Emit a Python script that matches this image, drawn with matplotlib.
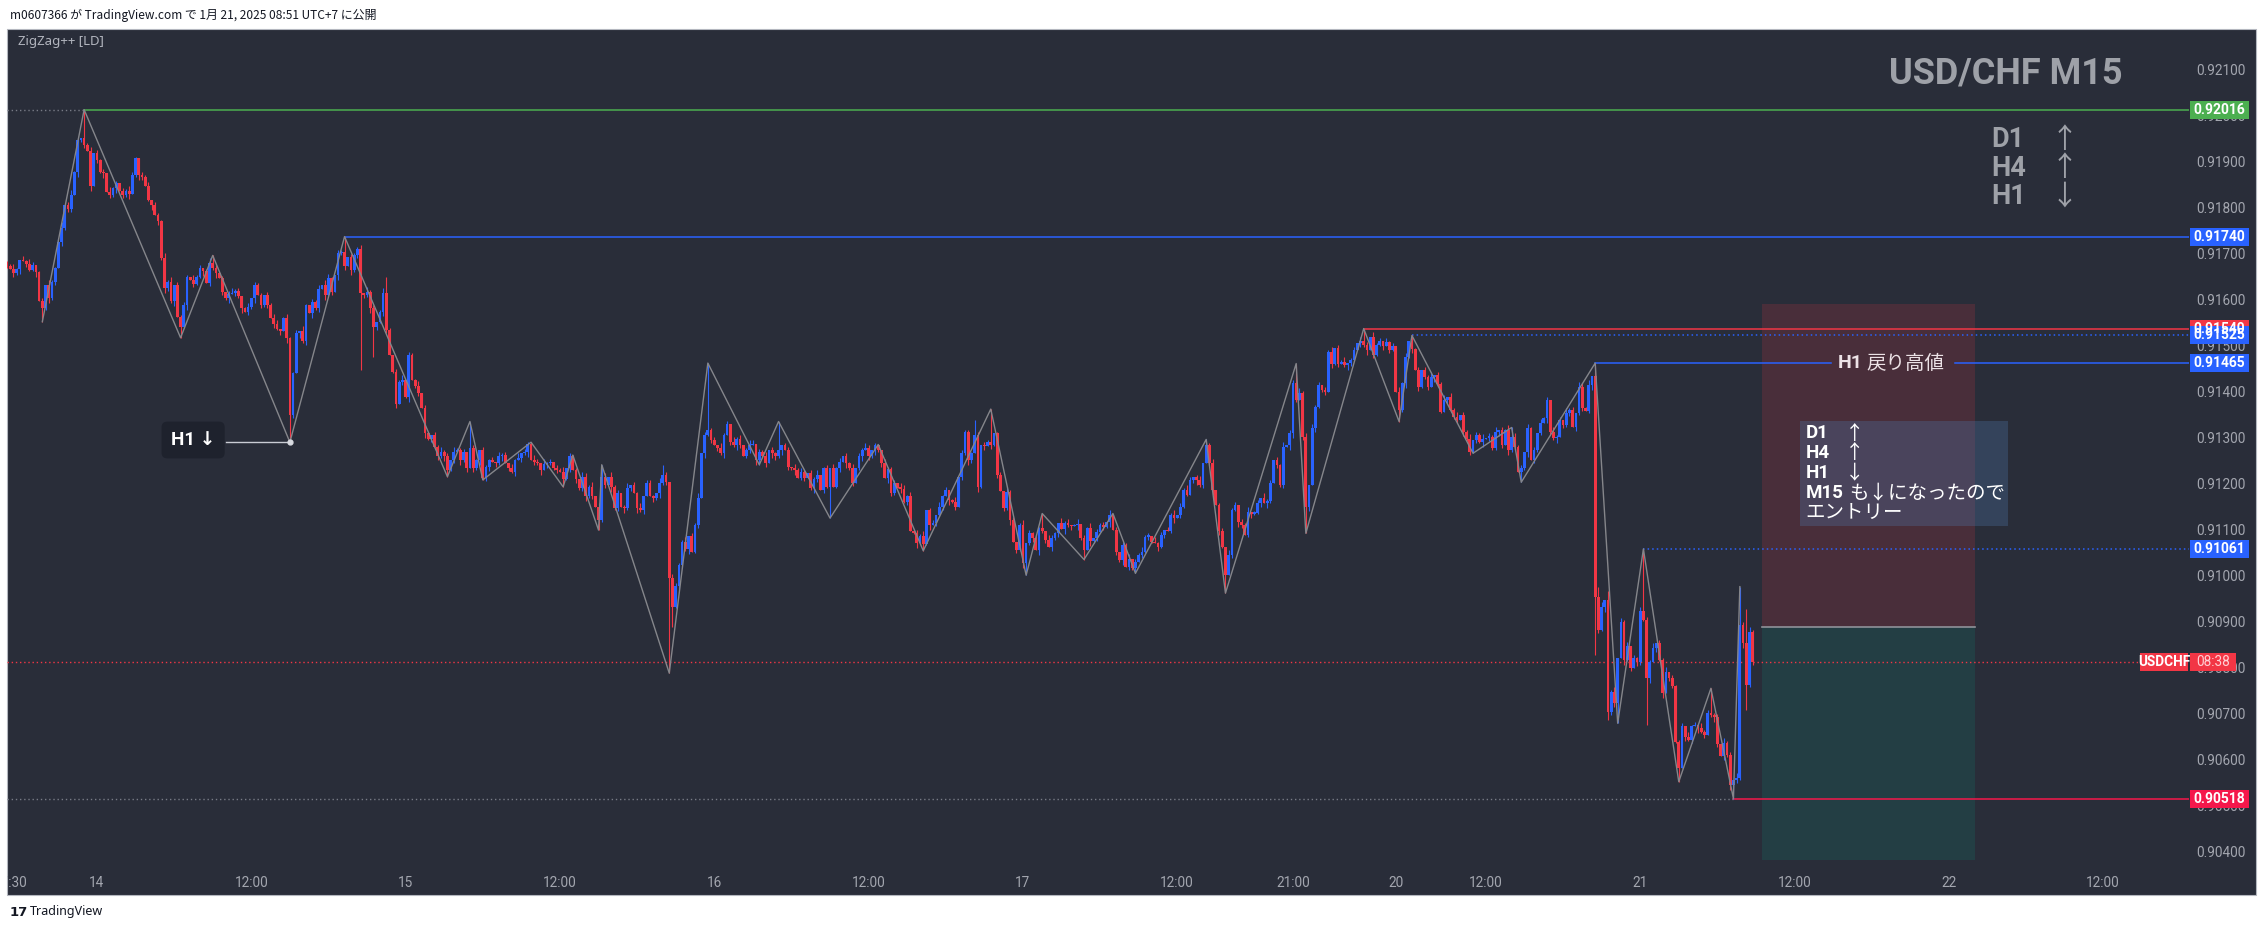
import matplotlib
matplotlib.use("Agg")
import matplotlib.pyplot as plt
from matplotlib.patches import Rectangle
import numpy as np

plt.rcParams['font.family'] = ['Noto Sans', 'Noto Sans CJK JP', 'DejaVu Sans']
BOLD_FAM = ['Roboto', 'DejaVu Sans']

# ---------------- data (prices in pips above 0.90) ----------------
BASE = 0.90
PIP = 0.0001
FIRST_INDEX = -28          # bar index of first visible M15 bar (0 = Jan 14 00:00)
OPEN0 = 168.0

CLOSES = [
    167.6, 167.0, 166.0, 166.9, 169.0, 168.6, 168.0, 166.8, 167.8, 166.2,
    160.0, 158.4, 163.5, 160.6, 164.2, 167.1, 172.9, 175.8, 180.9, 180.1,
    183.0, 188.0, 195.0, 195.4, 193.9, 192.5, 184.9, 192.1, 190.6, 188.1,
    187.8, 183.7, 183.0, 184.5, 185.7, 183.9, 183.0, 184.0, 183.2, 187.4,
    191.0, 187.4, 187.0, 184.9, 182.0, 180.9, 178.7, 177.3, 169.3, 162.8,
    164.2, 159.9, 163.5, 156.6, 154.4, 159.1, 165.3, 164.6, 163.8, 165.3,
    167.1, 166.5, 163.9, 168.2, 167.1, 166.0, 165.0, 162.0, 160.6, 161.5,
    161.8, 162.2, 161.0, 158.4, 157.7, 158.6, 160.6, 163.5, 161.3, 159.1,
    161.3, 159.2, 156.2, 155.1, 154.0, 153.4, 156.2, 151.9, 135.2, 144.3,
    153.0, 153.5, 151.2, 159.1, 157.3, 159.8, 158.4, 162.7, 163.5, 161.3,
    164.9, 162.0, 165.6, 170.4, 170.7, 167.5, 169.6, 166.7, 170.0, 171.4,
    161.7, 161.3, 162.0, 158.4, 154.4, 155.5, 157.7, 161.7, 153.7, 148.3,
    144.6, 137.7, 142.4, 142.8, 139.2, 148.3, 142.8, 141.5, 140.0, 136.7,
    131.2, 130.1, 130.9, 128.3, 126.2, 127.2, 126.2, 123.3, 125.4, 127.2,
    127.6, 125.4, 127.2, 123.6, 128.0, 123.6, 125.4, 127.6, 121.6, 124.0,
    125.4, 125.1, 124.7, 126.2, 126.5, 124.7, 123.8, 122.9, 125.4, 125.8,
    126.9, 127.2, 129.0, 125.4, 125.0, 124.7, 123.3, 124.5, 124.7, 125.0,
    123.6, 123.3, 122.8, 121.4, 123.6, 126.2, 123.3, 121.4, 119.3, 121.8,
    117.5, 119.6, 117.6, 115.3, 112.4, 121.8, 120.0, 121.8, 119.6, 115.0,
    118.2, 115.3, 114.9, 119.3, 120.0, 118.2, 115.0, 114.5, 117.5, 120.4,
    117.5, 117.1, 118.2, 120.4, 122.2, 120.7, 99.7, 93.5, 98.0, 102.6,
    107.7, 106.0, 108.9, 105.5, 111.3, 117.1, 126.9, 130.9, 132.0, 129.8,
    128.7, 128.0, 126.9, 130.9, 133.3, 129.4, 128.7, 130.1, 128.8, 126.2,
    127.6, 128.7, 129.0, 125.4, 127.2, 126.2, 124.7, 127.6, 126.9, 126.2,
    127.6, 128.7, 127.6, 124.0, 123.6, 123.3, 121.5, 122.9, 121.5, 122.5,
    119.3, 121.4, 122.2, 118.9, 123.6, 119.6, 123.6, 119.6, 123.6, 125.1,
    126.2, 124.7, 123.6, 120.4, 123.6, 126.2, 127.6, 128.0, 126.2, 127.6,
    128.7, 127.5, 124.7, 121.5, 123.5, 118.2, 120.4, 119.3, 119.2, 116.4,
    117.5, 109.9, 109.6, 107.3, 109.0, 107.2, 114.6, 111.3, 111.7, 113.5,
    115.3, 117.5, 118.9, 116.7, 116.4, 115.3, 121.8, 126.9, 131.6, 125.4,
    126.9, 130.9, 119.6, 128.7, 128.4, 129.4, 128.8, 131.2, 122.2, 118.6,
    115.0, 118.5, 112.4, 107.5, 105.9, 111.3, 103.0, 107.3, 109.5, 108.4,
    105.9, 110.6, 110.0, 108.0, 106.6, 108.4, 109.5, 111.7, 110.5, 111.8,
    111.3, 111.0, 111.2, 111.5, 108.4, 105.9, 110.6, 107.8, 108.5, 109.8,
    111.3, 110.9, 112.0, 113.5, 110.2, 105.5, 103.7, 107.0, 102.2, 104.0,
    101.9, 103.3, 104.8, 105.5, 108.8, 108.9, 107.7, 107.3, 106.6, 109.1,
    110.2, 110.0, 113.5, 112.8, 113.5, 115.3, 118.9, 117.9, 121.1, 121.8,
    121.0, 120.0, 124.7, 128.7, 124.7, 118.9, 115.7, 109.9, 106.6, 100.4,
    104.8, 114.6, 115.6, 112.0, 111.3, 109.1, 114.2, 113.8, 114.0, 116.0,
    117.1, 116.0, 116.5, 120.4, 125.4, 124.3, 120.0, 128.3, 128.7, 131.2,
    142.1, 138.5, 140.0, 130.5, 115.3, 120.0, 132.3, 137.0, 141.7, 140.6,
    140.3, 149.0, 146.4, 149.7, 146.4, 146.8, 146.1, 146.5, 147.2, 149.3,
    150.8, 151.2, 150.4, 149.3, 152.2, 148.3, 150.5, 151.2, 150.3, 151.0,
    149.4, 150.2, 140.3, 136.3, 142.1, 147.9, 151.2, 149.5, 145.0, 141.4,
    145.0, 143.5, 141.4, 143.5, 143.9, 142.0, 135.9, 138.5, 139.2, 136.3,
    134.8, 134.1, 135.2, 131.6, 130.0, 127.2, 129.8, 130.9, 129.4, 130.0,
    130.3, 130.5, 128.0, 131.6, 132.0, 128.7, 131.9, 127.6, 130.5, 128.3,
    122.9, 123.6, 127.2, 132.3, 125.4, 127.6, 131.2, 133.4, 134.5, 138.5,
    131.6, 130.2, 130.5, 134.1, 133.0, 135.6, 136.3, 132.7, 135.6, 141.4,
    136.7, 136.0, 141.7, 143.6, 95.7, 88.5, 93.5, 95.0, 70.7, 75.1,
    72.5, 82.3, 90.3, 82.0, 84.9, 80.2, 82.3, 81.6, 92.5, 90.7,
    78.0, 81.6, 84.5, 85.6, 82.0, 74.7, 79.4, 78.0, 76.2, 64.2,
    58.4, 67.5, 65.3, 64.6, 67.5, 67.8, 67.1, 66.4, 65.7, 70.4,
    70.0, 69.6, 63.8, 61.0, 64.0, 61.2, 54.8, 55.9, 56.3, 89.6,
    85.6, 76.5, 88.1, 81.5,
]

# wick lengths per bar, one digit per bar (x WICK_UNIT pips)
UPPER_WICK = (
    "2131021320 1203112402 3110213021 2031102132 1021302113"
    "1302121031 2013021102 3120130211 0213201311 2031021203"
    "3102130211 2031201321 0213021130 2102131203 1120321021"
    "1203120213 0211320312 0213021103 2130212031 2013021302"
    "2103120321 1302130211 2031203120 1320213021 3012031210"
    "2130120312 0213021320 1203112032 1302130120 3120130211"
    "1320213012 0312013021 3120321031 2013021302 1203120213"
    "0213120312 0213021320 1302130120 3120213012 0312021302"
    "2031203120 2130213012 0312031203 1203120312 0213021302"
    "1302130213 0213021302 1203120312 0312031203 2130213021"
    "3021302130 2130213021 1203120312 3120312031 2031203120"
)
LOWER_WICK = (
    "1021302113 0213120312 2031203021 3021302130 1320130213"
    "2130213021 1302130213 0213021302 1203120312 0312031203"
    "1203120312 0213021320 1302130120 3120213012 0312021302"
    "3021302130 2130213021 1203120312 3120312031 2031203120"
    "0213120312 2130120312 0213021320 1203112032 1302130120"
    "1320213012 0312013021 3120321031 2013021302 1203120213"
    "2031203120 2130213012 0312031203 1203120312 0213021302"
    "1302121031 2013021102 3120130211 0213201311 2031021203"
    "3102130211 2031201321 0213021130 2102131203 1120321021"
    "1203120213 0211320312 0213021103 2130212031 2013021302"
    "2103120321 1302130211 2031203120 1320213021 3012031210"
)
WICK_UNIT = 0.35

HIGH_OVERRIDE = {-4: 201.6, 36: 169.9, 77: 174.0, 90: 165.3, 116: 133.8, 135: 129.3,
                 148: 126.5, 157: 124.4, 176: 124.3, 190: 146.5, 212: 133.8, 243: 128.8,
                 273: 134.1, 278: 136.5, 294: 113.8, 316: 113.8, 345: 129.9, 373: 146.4,
                 394: 154.0, 409: 152.5, 440: 132.5, 466: 146.5, 467: 97.9, 470: 97.0,
                 481: 106.1, 502: 75.8, 511: 97.9, 513: 93.0}
LOW_OVERRIDE = {-17: 155.5, 26: 152.0, 60: 129.3, 82: 145.0, 86: 147.9, 109: 121.8,
                120: 121.1, 145: 119.6, 156: 110.2, 178: 79.1, 179: 89.2, 206: 124.4,
                228: 112.8, 257: 105.7, 289: 100.4, 307: 103.8, 323: 100.8, 351: 96.5,
                376: 109.5, 405: 133.8, 428: 126.9, 443: 120.6, 466: 83.0, 470: 68.9,
                473: 68.2, 482: 67.8, 492: 55.5, 509: 51.8, 513: 71.1}

ZZ_INDEX = [-17, -4, 26, 36, 60, 77, 109, 116, 120, 135, 145, 148, 156, 157, 178, 190,
            206, 212, 228, 243, 257, 278, 289, 294, 307, 316, 323, 345, 351, 373, 376,
            394, 405, 409, 428, 440, 443, 466, 473, 481, 492, 502, 509, 511]
ZZ_PIPS = [155.5, 201.6, 152.0, 169.9, 129.3, 174.0, 121.8, 133.8, 121.1, 129.3, 119.6,
           126.5, 110.2, 124.4, 79.1, 146.5, 124.4, 133.8, 112.8, 128.8, 105.7, 136.5,
           100.4, 113.8, 103.8, 113.8, 100.8, 129.9, 96.5, 146.4, 109.5, 154.0, 133.8,
           152.5, 126.9, 132.5, 120.6, 146.5, 68.2, 106.1, 55.5, 75.8, 51.8, 97.9]

# horizontal levels: price, start bar, colour, style
LEVEL_PRICE = [0.92016, 0.91740, 0.91540, 0.91525, 0.91465, 0.91061, 0.90518]
LEVEL_START = [-4, 77, 394, 409, 466, 481, 509]
LEVEL_COLOR = ['#4caf50', '#2962ff', '#f23645', '#2962ff', '#2962ff', '#2962ff', '#f5174b']
LEVEL_STYLE = ['-', '-', '-', ':', '-', ':', '-']
LEVEL_LEFT_DOTS = [True, False, False, False, False, False, True]
H1_GAP = (539.3, 577.9)     # gap in the 0.91465 ray around its text

PRICE_TICKS = [0.92100, 0.92000, 0.91900, 0.91800, 0.91700, 0.91600, 0.91500, 0.91400,
               0.91300, 0.91200, 0.91100, 0.91000, 0.90900, 0.90800, 0.90700, 0.90600,
               0.90500, 0.90400]
TIME_LABELS = ["17:30", "14", "12:00", "15", "12:00", "16", "12:00", "17", "12:00",
               "21:00", "20", "12:00", "21", "12:00", "22", "12:00"]
TIME_INDEX = [-26.7, 0, 48, 96, 144, 192, 240, 288, 336, 372, 404, 432, 480, 528, 576, 624]

POS_LEFT, POS_RIGHT = 517.9, 584.1
POS_STOP, POS_ENTRY, POS_TARGET = 0.91593, 0.90891, 0.90385
NOTE_LEFT, NOTE_RIGHT, NOTE_TOP, NOTE_BOTTOM = 529.7, 594.4, 0.91339, 0.91111

X_RANGE = (-27.99, 650.70)
Y_RANGE = (0.903717, 0.921913)

# ---------------- style ----------------
W, H, DPI = 2263, 931, 100
BG = '#292d39'
UP, DOWN = '#2962ff', '#f23645'
AXIS_TXT = '#a3a6af'
TITLE_C = '#9ea1a8'

def fx(px):
    return px / W

def fy(py):
    return 1 - py / H

fig = plt.figure(figsize=(W / DPI, H / DPI), dpi=DPI, facecolor='white')
fig.patches.append(Rectangle((fx(7), fy(895)), (2256 - 7) / W, (895 - 29) / H,
                             transform=fig.transFigure, fc=BG, ec='#b4b7bf', lw=0.8,
                             zorder=-5))

L, R, T, B = 7, 2189, 29, 866
ax = fig.add_axes([fx(L), fy(B), (R - L) / W, (B - T) / H], zorder=1)
ax.set_xlim(*X_RANGE)
ax.set_ylim(*Y_RANGE)
ax.axis('off')
ax.patch.set_visible(False)

# ---------------- candles ----------------
N = len(CLOSES)
idx = np.arange(FIRST_INDEX, FIRST_INDEX + N)
closes = BASE + np.array(CLOSES) * PIP
opens = np.concatenate([[BASE + OPEN0 * PIP], closes[:-1]])
uw = np.array([int(c) for c in UPPER_WICK if c.isdigit()][:N]) * WICK_UNIT * PIP
lw_ = np.array([int(c) for c in LOWER_WICK if c.isdigit()][:N]) * WICK_UNIT * PIP
highs = np.maximum(opens, closes) + uw
lows = np.minimum(opens, closes) - lw_
for i, p in HIGH_OVERRIDE.items():
    k = i - FIRST_INDEX
    highs[k] = max(BASE + p * PIP, max(opens[k], closes[k]))
for i, p in LOW_OVERRIDE.items():
    k = i - FIRST_INDEX
    lows[k] = min(BASE + p * PIP, min(opens[k], closes[k]))

cols = [UP if c >= o else DOWN for o, c in zip(opens, closes)]
px_price = (Y_RANGE[1] - Y_RANGE[0]) / (B - T)
ax.vlines(idx, lows, highs, colors=cols, lw=0.8, zorder=3)
ax.bar(idx, np.maximum(np.abs(closes - opens), 1.2 * px_price),
       bottom=np.minimum(opens, closes), width=0.85, color=cols, lw=0, zorder=3)

# zigzag
ax.plot(ZZ_INDEX, BASE + np.array(ZZ_PIPS) * PIP, color='#85868b', lw=1.0, zorder=4)

# ---------------- position box ----------------
ax.add_patch(Rectangle((POS_LEFT, POS_ENTRY), POS_RIGHT - POS_LEFT, POS_STOP - POS_ENTRY,
                       fc=(242/255, 54/255, 69/255, 0.16), ec='none', zorder=1))
ax.add_patch(Rectangle((POS_LEFT, POS_TARGET), POS_RIGHT - POS_LEFT, POS_ENTRY - POS_TARGET,
                       fc=(8/255, 153/255, 129/255, 0.16), ec='none', zorder=1))
ax.plot([POS_LEFT, POS_RIGHT], [POS_ENTRY, POS_ENTRY], color='#8f929a', lw=1.2, zorder=2)

# ---------------- levels ----------------
for p, s, c, st, dots in zip(LEVEL_PRICE, LEVEL_START, LEVEL_COLOR, LEVEL_STYLE, LEVEL_LEFT_DOTS):
    ls = (0, (1, 2)) if st == ':' else '-'
    if abs(p - 0.91465) < 1e-7:
        ax.plot([s, H1_GAP[0]], [p, p], color=c, lw=1.1, ls=ls, zorder=2)
        ax.plot([H1_GAP[1], X_RANGE[1]], [p, p], color=c, lw=1.1, ls=ls, zorder=2)
    else:
        ax.plot([s, X_RANGE[1]], [p, p], color=c, lw=1.1, ls=ls, zorder=2)
    if dots:
        ax.plot([X_RANGE[0], s], [p, p], color='#787b86', lw=1.0, ls=(0, (1, 2)), zorder=2)

last_price = closes[-1]
ax.plot(X_RANGE, [last_price, last_price], color=DOWN, lw=1.0, ls=(0, (1, 2)), zorder=2)

# H1 down label + line to pivot
h1_pivot_i, h1_pivot_p = ZZ_INDEX[4], BASE + ZZ_PIPS[4] * PIP
ax.plot([40.1, h1_pivot_i], [h1_pivot_p, h1_pivot_p], color='#c9ccd4', lw=1.0, zorder=5)
ax.plot([h1_pivot_i], [h1_pivot_p], 'o', color='#d8dae0', ms=3.5, zorder=6)
ax.text(29.9, 0.912978, "H1 ↓", color='white', fontsize=13.5, fontweight='bold',
        ha='center', va='center', family=BOLD_FAM, zorder=6,
        bbox=dict(boxstyle='round,pad=0.5,rounding_size=0.3', fc='#1e222d', ec='none'))

# H1 戻り高値 text
ax.text(541.5, 0.91465, "H1", color='#ece2e6', fontsize=14, fontweight='bold',
        ha='left', va='center', family=BOLD_FAM, zorder=6)
ax.text(550.4, 0.91465, "戻り高値", color='#ece2e6', fontsize=14,
        ha='left', va='center', family=['Noto Sans CJK JP'], zorder=6)

# note box
ax.add_patch(Rectangle((NOTE_LEFT, NOTE_BOTTOM), NOTE_RIGHT - NOTE_LEFT, NOTE_TOP - NOTE_BOTTOM,
                       fc=(0.30, 0.466, 0.667, 0.31), ec='none', zorder=4))
note_rows = [0.913130, 0.912696, 0.912261, 0.911826, 0.911413]
for lab, arrow, y in zip(["D1", "H4", "H1"], ["↑", "↑", "↓"], note_rows[:3]):
    ax.text(531.5, y, lab, color='white', fontsize=13.5, fontweight='bold',
            ha='left', va='center', family=BOLD_FAM, zorder=6)
    ax.text(546.8, y, arrow, color='white', fontsize=14, ha='center', va='center',
            family=['Noto Sans CJK JP'], zorder=6)
ax.text(531.5, note_rows[3], "M15", color='white', fontsize=13.5, fontweight='bold',
        ha='left', va='center', family=BOLD_FAM, zorder=6)
ax.text(545.0, note_rows[3], "も↓になったので", color='white', fontsize=14,
        ha='left', va='center', family=['Noto Sans CJK JP'], zorder=6)
ax.text(531.5, note_rows[4], "エントリー", color='white', fontsize=14,
        ha='left', va='center', family=['Noto Sans CJK JP'], zorder=6)

# top-right title block
ax.text(593.8, 0.920935, "USD/CHF M15", color=TITLE_C, fontsize=26, fontweight='bold',
        ha='center', va='center', family=BOLD_FAM, zorder=6)
for lab, arrow, y in zip(["D1", "H4", "H1"], ["↑", "↑", "↓"], [0.919500, 0.918891, 0.918261]):
    ax.text(589.1, y, lab, color=TITLE_C, fontsize=19.5, fontweight='bold',
            ha='left', va='center', family=BOLD_FAM, zorder=6)
    ax.text(611.8, y, arrow, color=TITLE_C, fontsize=20, ha='center', va='center',
            family=['Noto Sans CJK JP'], zorder=6)

# ---------------- price scale ----------------
axp = fig.add_axes([fx(R), fy(B), (2256 - R) / W, (B - T) / H], zorder=3)
axp.set_xlim(0, 1)
axp.set_ylim(*Y_RANGE)
axp.axis('off')
axp.patch.set_visible(False)
for p in PRICE_TICKS:
    axp.text(0.478, p, f"{p:.5f}", color=AXIS_TXT, fontsize=9.8, ha='center', va='center',
             family=['Roboto', 'DejaVu Sans'], zorder=2)
hh = 9 * px_price
for p, c in zip(LEVEL_PRICE, LEVEL_COLOR):
    axp.add_patch(Rectangle((0.015, p - hh), 0.88, 2 * hh, fc=c, ec='none', zorder=4, clip_on=False))
    axp.text(0.455, p, f"{p:.5f}", color='white', fontsize=10, fontweight='bold',
             ha='center', va='center', family=BOLD_FAM, zorder=5, clip_on=False)
axp.add_patch(Rectangle((-0.731, last_price - hh), 0.72, 2 * hh, fc=DOWN, ec='none',
                        zorder=4, clip_on=False))
axp.text(-0.37, last_price, "USDCHF", color='white', fontsize=9.8, fontweight='bold',
         ha='center', va='center', family=BOLD_FAM, zorder=5, clip_on=False)
axp.add_patch(Rectangle((0.015, last_price - hh), 0.685, 2 * hh, fc=DOWN, ec='none',
                        zorder=4, clip_on=False))
axp.text(0.357, last_price, "08:38", color='#ffd0d4', fontsize=9.8,
         ha='center', va='center', family=['Roboto', 'DejaVu Sans'], zorder=5, clip_on=False)

# ---------------- time scale ----------------
axt = fig.add_axes([fx(L), fy(895), (R - L) / W, (895 - B) / H], zorder=2)
axt.set_xlim(*X_RANGE)
axt.set_ylim(0, 1)
axt.axis('off')
axt.patch.set_visible(False)
for lab, i in zip(TIME_LABELS, TIME_INDEX):
    axt.text(i, 0.41, lab, color=AXIS_TXT, fontsize=9.8, ha='center', va='center',
             family=['Roboto', 'DejaVu Sans'], clip_on=True)

# ---------------- header / footer / indicator name ----------------
fig.text(fx(18), fy(42), "ZigZag++ [LD]", color='#b2b5be', fontsize=9.5, ha='left', va='center')
fig.text(fx(10), fy(15), "m0607366 が TradingView.com で 1月 21, 2025 08:51 UTC+7 に公開",
         color='#131722', fontsize=8.6, ha='left', va='center',
         family=['Noto Sans CJK JP', 'DejaVu Sans'])
fig.text(fx(10), fy(912), "17", color='#131722', fontsize=9.5, fontweight='heavy',
         ha='left', va='center', family=['DejaVu Sans'])
fig.text(fx(30), fy(912), "TradingView", color='#131722', fontsize=9, ha='left', va='center')

fig.savefig("out.png", dpi=DPI, facecolor='white')
